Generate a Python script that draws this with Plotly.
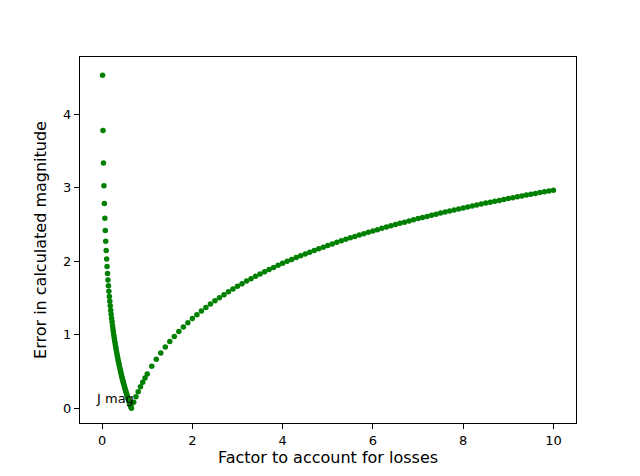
import plotly.graph_objects as go

x_low = [round(0.01 * i, 2) for i in range(1, 66)]
y_low = [4.532, 3.779, 3.339, 3.027, 2.785, 2.587, 2.419, 2.274, 2.146, 2.032,
         1.928, 1.834, 1.747, 1.667, 1.592, 1.522, 1.456, 1.394, 1.335, 1.279,
         1.226, 1.176, 1.128, 1.081, 1.037, 0.995, 0.953, 0.914, 0.876, 0.839,
         0.804, 0.769, 0.736, 0.703, 0.672, 0.641, 0.612, 0.583, 0.554, 0.527,
         0.500, 0.474, 0.448, 0.423, 0.399, 0.375, 0.352, 0.329, 0.307, 0.285,
         0.263, 0.242, 0.221, 0.201, 0.181, 0.162, 0.142, 0.124, 0.105, 0.087,
         0.069, 0.051, 0.034, 0.017, 0.000]
x_mid = [0.70, 0.75, 0.80, 0.85, 0.90, 0.95]
y_mid = [0.081, 0.156, 0.226, 0.292, 0.354, 0.412]
x_high = [round(1.0 + 0.1 * i, 1) for i in range(0, 91)]
y_high = [0.468, 0.572, 0.666, 0.753, 0.833, 0.908, 0.978, 1.044, 1.106, 1.165,
          1.221, 1.274, 1.324, 1.372, 1.419, 1.463, 1.505, 1.546, 1.586, 1.624,
          1.661, 1.696, 1.731, 1.764, 1.797, 1.828, 1.859, 1.888, 1.917, 1.946,
          1.973, 2.000, 2.026, 2.052, 2.077, 2.101, 2.125, 2.148, 2.171, 2.193,
          2.215, 2.237, 2.258, 2.279, 2.299, 2.319, 2.338, 2.358, 2.376, 2.395,
          2.413, 2.431, 2.449, 2.466, 2.483, 2.500, 2.517, 2.533, 2.549, 2.565,
          2.581, 2.596, 2.611, 2.626, 2.641, 2.656, 2.670, 2.684, 2.698, 2.712,
          2.726, 2.739, 2.753, 2.766, 2.779, 2.792, 2.804, 2.817, 2.829, 2.842,
          2.854, 2.866, 2.878, 2.889, 2.901, 2.912, 2.924, 2.935, 2.946, 2.957,
          2.968]

xs = x_low + x_mid + x_high
ys = y_low + y_mid + y_high

fig = go.Figure(go.Scatter(x=xs, y=ys, mode="markers",
                           marker=dict(color="#008000", size=5.5, line=dict(width=0))))
fig.add_annotation(x=-0.17, y=0.0, text="J mag", showarrow=False,
                   xanchor="left", yanchor="bottom", font=dict(size=13, color="black"))
axis = dict(showgrid=False, zeroline=False, showline=True, linecolor="black", linewidth=1,
            mirror=True, ticks="outside", ticklen=5, tickcolor="black",
            tickfont=dict(size=13, color="black"))
fig.update_layout(
    width=640, height=476, paper_bgcolor="white", plot_bgcolor="white",
    margin=dict(l=72, r=72, t=49, b=61),
    font=dict(family="DejaVu Sans", size=13, color="black"),
    showlegend=False,
    xaxis=dict(axis, range=[-0.49, 10.5], tickvals=[0, 2, 4, 6, 8, 10],
               title=dict(text="Factor to account for losses", standoff=2)),
    yaxis=dict(axis, range=[-0.2, 4.78], tickvals=[0, 1, 2, 3, 4],
               title=dict(text="Error in calculated magnitude", standoff=12)),
)
fig.write_html("out.html")
